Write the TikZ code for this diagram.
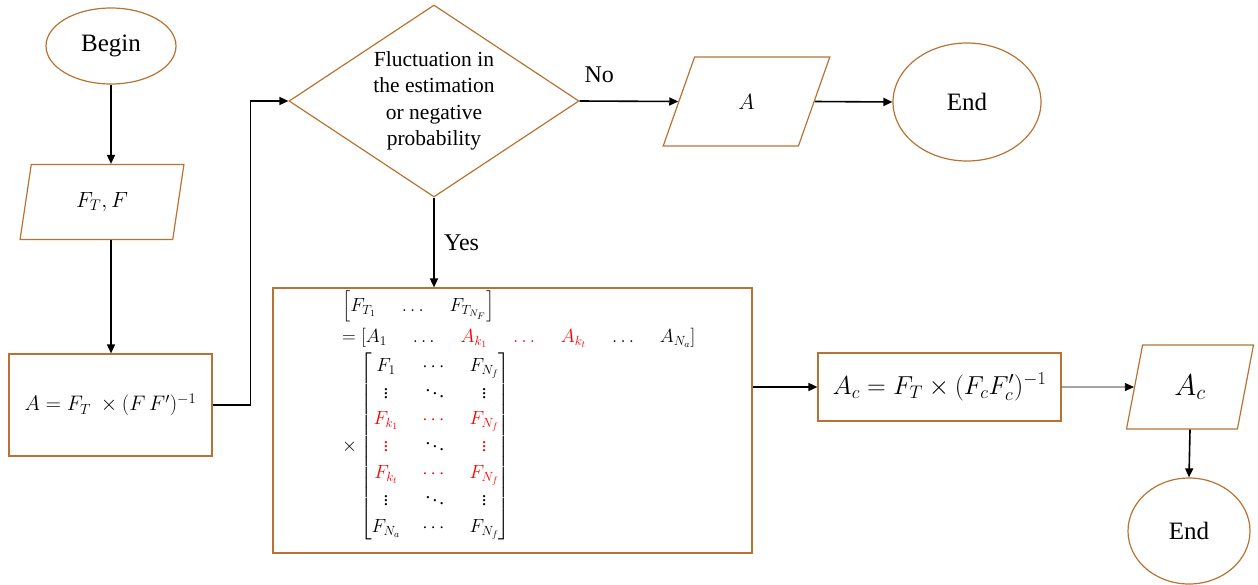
\documentclass[tikz,border=0pt]{standalone}
\usepackage{fix-cm}
\usepackage{amsmath}
\usepackage{fontspec}
\setmainfont{Liberation Serif}
\usepackage{xcolor}
\usetikzlibrary{arrows.meta,positioning,shapes.geometric}
\definecolor{copper}{HTML}{B87333}
\definecolor{hot}{HTML}{FF0000}
\newcommand{\gap}{\hspace{1.2em}}
\tikzset{
  terminal/.style={ellipse, draw=copper, line width=1.2pt, inner sep=0pt,
                   font=\fontsize{25}{30}\selectfont},
  iobox/.style={trapezium, trapezium stretches=true, draw=copper, line width=1.2pt,
                inner sep=0pt, font=\fontsize{22}{26}\selectfont},
  procbox/.style={rectangle, draw=copper, line width=1.2pt, inner sep=0pt,
                  font=\fontsize{21}{25}\selectfont},
  decision/.style={diamond, shape aspect=1.5, draw=copper, line width=1.2pt,
                   inner sep=0pt, align=center, font=\fontsize{21.5}{26.5}\selectfont},
  arr/.style={-{Triangle[length=9pt,width=8pt]}, line width=1.6pt},
  thinarr/.style={-{Triangle[length=9pt,width=8pt]}, line width=0.7pt},
  lbl/.style={font=\fontsize{24}{28}\selectfont}
}

\begin{document}
\begin{tikzpicture}[x=1pt, y=-1pt]
  \useasboundingbox (0,0) rectangle (1258,584);
  \node[terminal, minimum width=130pt, minimum height=76pt] (begin) at (111,46) {Begin};
  \node[iobox, trapezium left angle=78, trapezium right angle=102,
        minimum width=164pt, minimum height=75pt] (input) at (102,202) {$F_T, F$};
  \node[procbox, minimum width=203pt, minimum height=102pt] (est) at (110.5,405)
       {$A = F_T\ \times (F\,F')^{-1}$};
  \node[decision, minimum width=290pt, minimum height=192pt] (check) at (434,101)
       {Fluctuation in\\the estimation\\or negative\\probability};
  \node[iobox, trapezium left angle=72, trapezium right angle=108,
        minimum width=167pt, minimum height=89pt] (outA) at (746.5,101.5) {$A$};
  \node[terminal, minimum width=148pt, minimum height=118pt] (end1) at (967,102) {End};
  \node[procbox, minimum width=479pt, minimum height=265pt] (adjust) at (512.5,420.5) {};
  \node[anchor=north west, align=left, inner sep=0pt,
        font=\fontsize{19}{24}\selectfont] (eqn) at (342,291)
       {$\left[F_{T_1} \gap \dots \gap F_{T_{N_F}}\right]$\\[5pt]
        $= [A_1 \gap \dots \gap {\color{hot}A_{k_1} \gap \dots \gap A_{k_t}} \gap \dots \gap A_{N_a}]$\\[4pt]
        $\times \renewcommand{\arraystretch}{1.12}\setlength{\arraycolsep}{11pt}
        \begin{bmatrix}
          F_1 & \cdots & F_{N_f}\\
          \vdots & \ddots & \vdots\\
          \color{hot}F_{k_1} & \color{hot}\cdots & \color{hot}F_{N_f}\\
          \color{hot}\vdots & \ddots & \color{hot}\vdots\\
          \color{hot}F_{k_t} & \color{hot}\cdots & \color{hot}F_{N_f}\\
          \vdots & \ddots & \vdots\\
          F_{N_a} & \cdots & F_{N_f}
        \end{bmatrix}$};
  \node[procbox, minimum width=243pt, minimum height=68pt,
        font=\fontsize{26}{30}\selectfont] (corr) at (939.5,387)
       {$A_c = F_T \times (F_cF_c')^{-1}$};
  \node[iobox, trapezium left angle=78, trapezium right angle=102,
        minimum width=127pt, minimum height=84pt, font=\fontsize{30}{34}\selectfont]
       (outAc) at (1190,387) {$A_c$};
  \node[terminal, minimum width=122pt, minimum height=106pt] (end2) at (1189,531) {End};

  \draw[arr] (begin.south) -- (begin.south |- input.north);
  \draw[arr] (begin.south |- input.south) -- (begin.south |- est.north);
  \draw[arr] (est.east) -- ++(38,0) |- (check.west);
  \draw[arr] (check.east) -- node[lbl, pos=0.2, above=14pt] {No} (outA.west);
  \draw[arr] (outA.east) -- (end1.west);
  \draw[arr] (check.south) -- node[lbl, right=6pt] {Yes} (check.south |- adjust.north);
  \draw[arr] (adjust.east |- corr.west) -- (corr.west);
  \draw[thinarr] (corr.east) -- (outAc.west);
  \draw[arr] (outAc.south) -- (end2.north);
\end{tikzpicture}
\end{document}
